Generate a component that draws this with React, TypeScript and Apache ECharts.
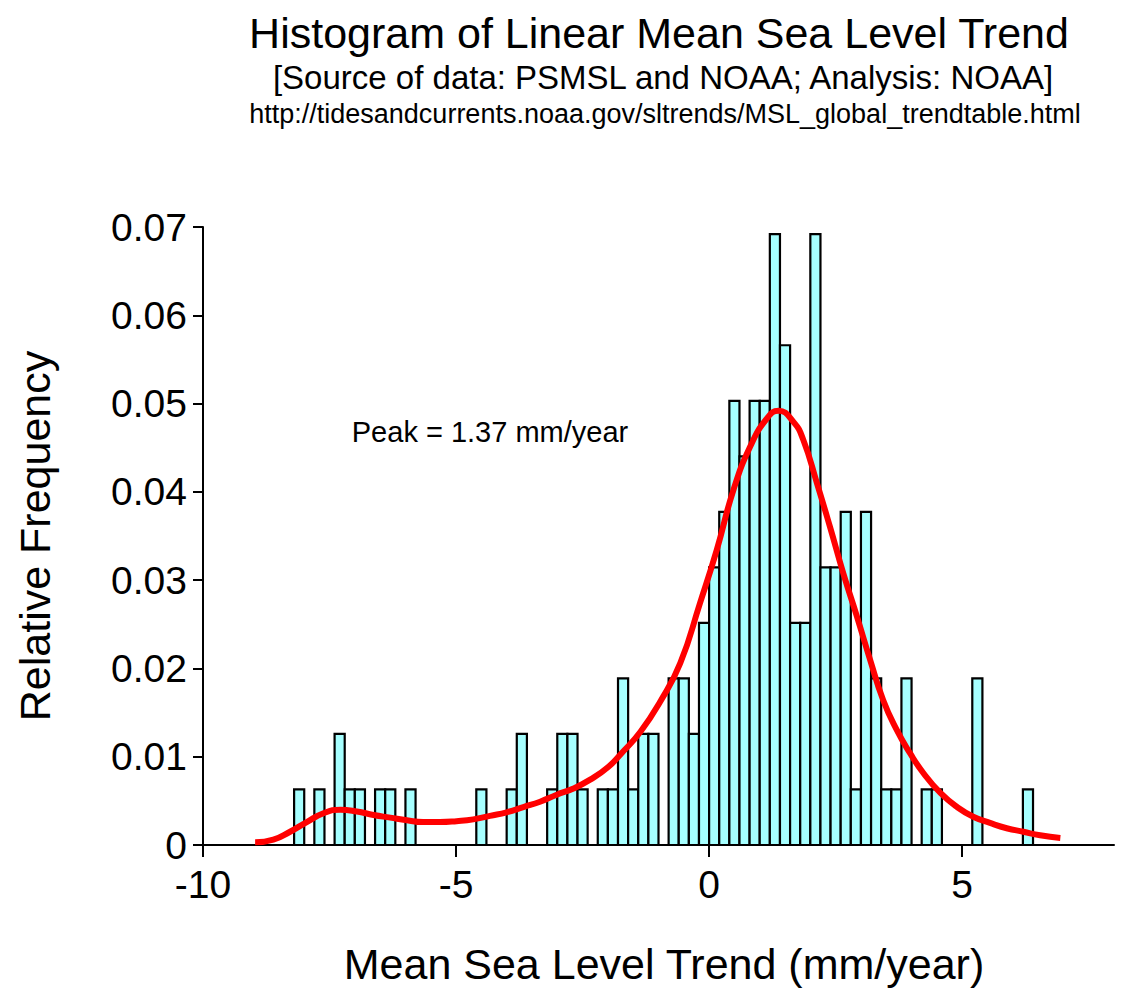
import React, { useEffect, useRef } from "react";
import * as echarts from "echarts";

// Histogram of linear mean sea level trends (mm/year), bins of 0.2 mm/year
const BIN_WIDTH = 0.2;
const BIN_START = [
  -8.2, -7.8, -7.4, -7.2, -7.0, -6.6, -6.4, -6.0, -4.6, -4.0, -3.8, -3.2, -3.0,
  -2.8, -2.6, -2.2, -2.0, -1.8, -1.6, -1.4, -1.2, -0.8, -0.6, -0.4, -0.2, 0.0,
  0.2, 0.4, 0.6, 0.8, 1.0, 1.2, 1.4, 1.6, 1.8, 2.0, 2.2, 2.4, 2.6, 2.8, 3.0, 3.2,
  3.4, 3.6, 3.8, 4.2, 4.4, 5.2, 6.2,
];
const BIN_COUNT = [
  1, 1, 2, 1, 1, 1, 1, 1, 1, 1, 2, 1, 2, 2, 1, 1, 1, 3, 1, 2, 2, 3, 3, 2, 4, 5,
  6, 8, 7, 8, 8, 11, 9, 4, 4, 11, 5, 5, 6, 1, 6, 3, 1, 1, 3, 1, 1, 3, 1,
];
const TOTAL_STATIONS = 159;

// Fitted density curve
const CURVE_X = [
  -8.97, -8.61, -8.28, -7.95, -7.62, -7.29, -6.96, -6.63, -6.3, -5.97, -5.65,
  -5.32, -4.99, -4.66, -4.33, -4.0, -3.67, -3.34, -3.01, -2.68, -2.35, -2.0,
  -1.73, -1.36, -0.97, -0.57, -0.18, 0.15, 0.48, 0.81, 1.14, 1.37, 1.67, 1.86,
  2.13, 2.39, 2.65, 2.92, 3.18, 3.44, 3.71, 3.97, 4.24, 4.57, 4.9, 5.22, 5.55,
  5.88, 6.21, 6.54, 6.94,
];
const CURVE_Y = [
  0.0003, 0.0006, 0.0015, 0.0026, 0.0036, 0.004, 0.0038, 0.0034, 0.0031,
  0.0028, 0.0026, 0.0026, 0.0027, 0.0029, 0.0033, 0.0037, 0.0043, 0.0049,
  0.0057, 0.0064, 0.0074, 0.0088, 0.0104, 0.0128, 0.0162, 0.0206, 0.0274,
  0.0334, 0.0402, 0.0451, 0.0483, 0.0492, 0.0479, 0.0459, 0.041, 0.036, 0.0308,
  0.0259, 0.021, 0.0164, 0.013, 0.0104, 0.0081, 0.0059, 0.0043, 0.0032, 0.0025,
  0.0019, 0.0015, 0.0011, 0.0008,
];

const X_TICKS = [-10, -5, 0, 5];

const TITLE = "Histogram of Linear Mean Sea Level Trend";
const SUBTITLE = "[Source of data: PSMSL and NOAA; Analysis: NOAA]";
const SOURCE_URL = "http://tidesandcurrents.noaa.gov/sltrends/MSL_global_trendtable.html";
const PEAK_LABEL = "Peak = 1.37 mm/year";
const X_NAME = "Mean Sea Level Trend (mm/year)";
const Y_NAME = "Relative Frequency";

const FONT = "'Liberation Sans', Arial, sans-serif";

export default function App() {
  const ref = useRef<HTMLDivElement>(null);

  useEffect(() => {
    if (!ref.current) return;
    const chart = echarts.init(ref.current, null, { renderer: "svg" });

    const barData = BIN_START.map((s, i) => [s, BIN_COUNT[i] / TOTAL_STATIONS]);
    const curveData = CURVE_X.map((x, i) => [x, CURVE_Y[i]]);

    chart.setOption({
      animation: false,
      backgroundColor: "#ffffff",
      grid: { left: 203, right: 7, top: 227, bottom: 145, containLabel: false },
      xAxis: {
        type: "value",
        min: -10,
        max: 8,
        interval: 5,
        splitLine: { show: false },
        axisLine: { onZero: false, lineStyle: { color: "#000", width: 2 } },
        axisTick: {
          length: 12,
          lineStyle: { color: "#000", width: 2 },
          customValues: X_TICKS,
        },
        axisLabel: {
          customValues: X_TICKS,
          color: "#000",
          fontFamily: FONT,
          fontSize: 39,
          margin: 20,
        },
      },
      yAxis: {
        type: "value",
        min: 0,
        max: 0.07,
        interval: 0.01,
        splitLine: { show: false },
        axisLine: { show: true, onZero: false, lineStyle: { color: "#000", width: 2 } },
        axisTick: { show: true, length: 10, lineStyle: { color: "#000", width: 2 } },
        axisLabel: {
          color: "#000",
          fontFamily: FONT,
          fontSize: 39,
          margin: 16,
          formatter: (v: number) => (v === 0 ? "0" : v.toFixed(2)),
        },
      },
      series: [
        {
          type: "custom",
          data: barData,
          encode: { x: 0, y: 1 },
          z: 2,
          renderItem: (params: any, api: any) => {
            const x0 = api.value(0);
            const h = api.value(1);
            const p1 = api.coord([x0, h]);
            const p2 = api.coord([x0 + BIN_WIDTH, 0]);
            return {
              type: "rect",
              shape: { x: p1[0], y: p1[1], width: p2[0] - p1[0], height: p2[1] - p1[1] },
              style: { fill: "#A6FFFF", stroke: "#000", lineWidth: 2.2 },
            };
          },
        },
        {
          type: "line",
          data: curveData,
          smooth: 0.5,
          symbol: "none",
          z: 3,
          lineStyle: { color: "#FF0000", width: 6 },
        },
      ],
      graphic: [
        {
          type: "text",
          x: 659,
          y: 33,
          style: {
            text: TITLE,
            fill: "#000",
            font: `43px ${FONT}`,
            textAlign: "center",
            textVerticalAlign: "middle",
          },
        },
        {
          type: "text",
          x: 663,
          y: 77,
          style: {
            text: SUBTITLE,
            fill: "#000",
            font: `33px ${FONT}`,
            textAlign: "center",
            textVerticalAlign: "middle",
          },
        },
        {
          type: "text",
          x: 665,
          y: 114,
          style: {
            text: SOURCE_URL,
            fill: "#000",
            font: `27px ${FONT}`,
            textAlign: "center",
            textVerticalAlign: "middle",
          },
        },
        {
          type: "text",
          x: 490,
          y: 432,
          style: {
            text: PEAK_LABEL,
            fill: "#000",
            font: `29px ${FONT}`,
            textAlign: "center",
            textVerticalAlign: "middle",
          },
        },
        {
          type: "text",
          x: 664,
          y: 964,
          style: {
            text: X_NAME,
            fill: "#000",
            font: `43px ${FONT}`,
            textAlign: "center",
            textVerticalAlign: "middle",
          },
        },
        {
          type: "text",
          x: 35,
          y: 536,
          rotation: Math.PI / 2,
          style: {
            text: Y_NAME,
            fill: "#000",
            font: `43px ${FONT}`,
            textAlign: "center",
            textVerticalAlign: "middle",
          },
        },
      ],
    });

    return () => chart.dispose();
  }, []);

  return (
    <div
      ref={ref}
      style={{ position: "absolute", left: 0, top: 0, width: 1121, height: 990 }}
    />
  );
}
